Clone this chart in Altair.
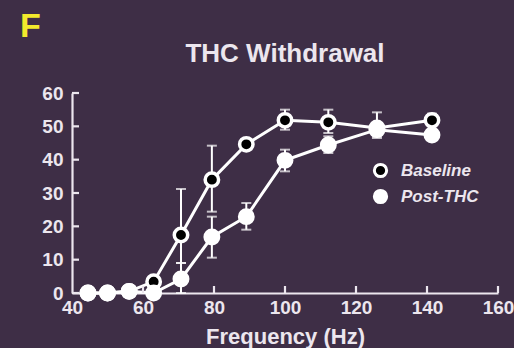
import altair as alt
import pandas as pd

# ---- data ----
freq = [44.5, 50, 56.1, 63, 70.7, 79.4, 89.1, 100, 112.2, 125.9, 141.4]

base_mean = [0, 0, 0.5, 3.4, 17.4, 34.0, 44.6, 51.8, 51.2, 49.5, 51.8]
base_lo   = [0, 0, 0.5, 2.0, 9.0, 24.4, 43.0, 49.0, 48.0, 46.5, 50.0]
base_hi   = [0, 0, 0.5, 5.0, 31.2, 44.2, 46.0, 55.0, 55.0, 54.2, 53.8]

post_mean = [0, 0, 0.5, 0, 4.2, 16.8, 22.9, 39.8, 44.4, 49.0, 47.4]
post_lo   = [0, 0, 0.5, 0, 0.0, 10.6, 19.0, 36.5, 42.0, 47.0, 46.0]
post_hi   = [0, 0, 0.5, 0, 9.0, 22.9, 27.0, 43.0, 47.0, 51.0, 49.0]

groups = ["Baseline", "Post-THC"]
x_ticks = [40, 60, 80, 100, 120, 140, 160]
y_ticks = [0, 10, 20, 30, 40, 50, 60]
title_text = "THC Withdrawal"
panel_label = "F"

rows = []
for g, m, lo, hi in [("Baseline", base_mean, base_lo, base_hi),
                     ("Post-THC", post_mean, post_lo, post_hi)]:
    for i, f in enumerate(freq):
        rows.append({"group": g, "freq": f, "mean": m[i], "lo": lo[i], "hi": hi[i],
                     "order": 0 if g == "Baseline" else 1})
df = pd.DataFrame(rows)
err = df[df["hi"] - df["lo"] > 0.6]

BG = "#3e2e46"
FG = "#ece6ee"
FONT = "Liberation Sans"

xs = alt.Scale(domain=[40, 160], nice=False, zero=False)
ys = alt.Scale(domain=[0, 60], nice=False, zero=False)

x_axis = alt.Axis(values=x_ticks, title="Frequency (Hz)", grid=False, tickSize=0,
                  labelPadding=5, labelFontSize=19, labelFontWeight="bold",
                  titleFontSize=22, titleFontWeight="bold", titlePadding=9,
                  labelColor=FG, titleColor=FG, domainColor=FG, domainWidth=2.2,
                  labelFont=FONT, titleFont=FONT, labelFlush=False)
y_axis = alt.Axis(values=y_ticks, title=None, grid=False, tickSize=0,
                  labelPadding=9, labelFontSize=19, labelFontWeight="bold",
                  labelColor=FG, domainColor=FG, domainWidth=2.2, labelFont=FONT)


def X(field):
    return alt.X(field, scale=xs, axis=x_axis)


def Y(field):
    return alt.Y(field, scale=ys, axis=y_axis)


base = alt.Chart(df)

lines = base.mark_line(color="white", strokeWidth=3).encode(
    x=X("freq:Q"), y=Y("mean:Q"), detail="group:N",
)

err_rule = alt.Chart(err).mark_rule(color="white", strokeWidth=2).encode(
    x=X("freq:Q"), y=Y("lo:Q"), y2="hi:Q",
)
cap_lo = alt.Chart(err).mark_tick(color="white", orient="horizontal", size=10, thickness=2).encode(
    x=X("freq:Q"), y=Y("lo:Q"),
)
cap_hi = alt.Chart(err).mark_tick(color="white", orient="horizontal", size=10, thickness=2).encode(
    x=X("freq:Q"), y=Y("hi:Q"),
)

points = base.mark_circle(size=180, stroke="white", strokeWidth=3.5, opacity=1).encode(
    x=X("freq:Q"), y=Y("mean:Q"),
    fill=alt.Fill("group:N", scale=alt.Scale(domain=groups, range=["black", "white"]),
                  legend=alt.Legend(title=None, orient="none", legendX=300, legendY=69,
                                    symbolType="circle", symbolSize=150,
                                    symbolStrokeColor="white", symbolStrokeWidth=3,
                                    symbolOpacity=1,
                                    labelFont=FONT, labelFontSize=17, labelFontStyle="italic",
                                    labelFontWeight="bold", labelColor=FG, rowPadding=1,
                                    labelOffset=12)),
    order=alt.Order("order:Q"),
)

xtick_df = pd.DataFrame({"t": x_ticks[1:]})
ytick_df = pd.DataFrame({"t": y_ticks})
xticks = alt.Chart(xtick_df).mark_rule(color=FG, strokeWidth=2.2).encode(
    x=X("t:Q"), y=alt.value(200), y2=alt.value(193))
yticks = alt.Chart(ytick_df).mark_rule(color=FG, strokeWidth=2.2).encode(
    y=Y("t:Q"), x=alt.value(0), x2=alt.value(7))

panel = alt.Chart(pd.DataFrame({"t": [panel_label]})).mark_text(
    color="#f2ea2c", fontSize=34, fontWeight="bold", font=FONT, align="left",
    baseline="alphabetic").encode(text="t:N", x=alt.value(-52), y=alt.value(-56))

title = alt.Chart(pd.DataFrame({"t": [title_text]})).mark_text(
    color=FG, fontSize=26, fontWeight="bold", font=FONT, align="center",
    baseline="alphabetic").encode(text="t:N", x=alt.value(213), y=alt.value(-31))

chart = alt.layer(lines, err_rule, cap_lo, cap_hi, xticks, yticks, points, panel, title).properties(
    width=426, height=200,
    autosize=alt.AutoSizeParams(type="none"),
    padding={"left": 72, "top": 93, "right": 16, "bottom": 55},
    background=BG,
).configure_view(stroke=None)

chart.save("out.html", embed_options={"renderer": "svg", "actions": False})
